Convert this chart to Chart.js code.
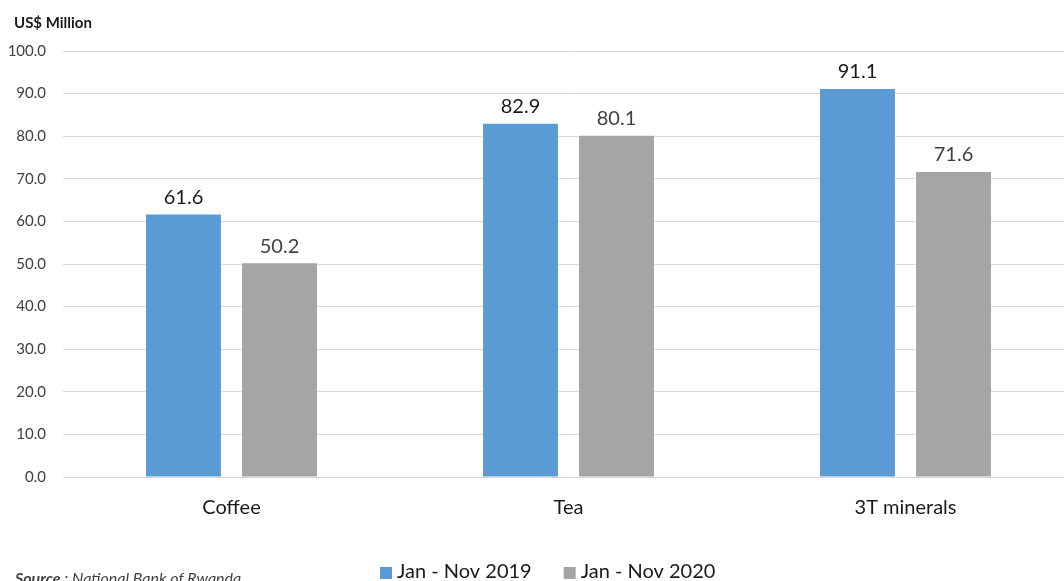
<!DOCTYPE html>
<html>
<head>
<meta charset="utf-8">
<script src="https://cdn.jsdelivr.net/npm/chart.js@4"></script>
<style>
  html, body { margin: 0; padding: 0; background: #fff; overflow: hidden; }
  #wrap { position: relative; width: 1075px; height: 590px; }
</style>
</head>
<body>
<div id="wrap"><canvas id="chart"></canvas></div>
<script>
const categories = ['Coffee', 'Tea', '3T minerals']
const labels2019 = 'Jan - Nov 2019'
const labels2020 = 'Jan - Nov 2020'
const values2019 = [61.6, 82.9, 91.1]
const values2020 = [50.2, 80.1, 71.6]
const yTicks = { min: 0, max: 100, step: 10 }

const blue = '#5b9bd5'
const gray = '#a5a5a5'
const fontName = 'Lato, "Open Sans", sans-serif'

// value labels above bars
const valueLabels = {
    id: 'valueLabels',
    afterDatasetsDraw(chart) {
        const ctx = chart.ctx
        ctx.save()
        ctx.font = '20px ' + fontName
        ctx.textAlign = 'center'
        ctx.textBaseline = 'bottom'
        chart.data.datasets.forEach((ds, i) => {
            const meta = chart.getDatasetMeta(i)
            ctx.fillStyle = i === 0 ? '#1a1a1a' : '#404040'
            meta.data.forEach((bar, j) => {
                ctx.fillText(ds.data[j].toFixed(1), bar.x, bar.y - 7)
            })
        })
        ctx.restore()
    }
}

// title, source and legend, laid out like the original
const extras = {
    id: 'extras',
    afterDraw(chart) {
        const ctx = chart.ctx
        ctx.save()
        ctx.fillStyle = '#1a1a1a'
        ctx.font = 'bold 15px ' + fontName
        ctx.textBaseline = 'middle'
        ctx.textAlign = 'left'
        ctx.fillText('US$ Million', 14, 23)

        ctx.fillStyle = '#404040'
        ctx.font = 'italic bold 16px ' + fontName
        ctx.textBaseline = 'alphabetic'
        ctx.fillText('Source', 15, 584)
        const w = ctx.measureText('Source').width
        ctx.font = 'italic 16px ' + fontName
        ctx.fillText(' : National Bank of Rwanda', 15 + w, 584)

        let x = 380
        ctx.font = '20px ' + fontName
        ctx.textBaseline = 'middle'
        chart.data.datasets.forEach(ds => {
            ctx.fillStyle = ds.backgroundColor
            ctx.fillRect(x, 567, 12, 12)
            ctx.fillStyle = '#1a1a1a'
            ctx.fillText(ds.label, x + 17, 572)
            x += 17 + ctx.measureText(ds.label).width + 32
        })
        ctx.restore()
    }
}

const ctx = document.getElementById('chart').getContext('2d')
const chart = new Chart(ctx, {
    type: 'bar',
    data: {
        labels: categories,
        datasets: [
            { label: labels2019, data: values2019, backgroundColor: blue },
            { label: labels2020, data: values2020, backgroundColor: gray }
        ]
    },
    options: {
        responsive: true,
        maintainAspectRatio: false,
        animation: false,
        categoryPercentage: 0.57,
        barPercentage: 0.78,
        layout: { padding: { top: 51, right: 1, left: 0, bottom: 0 } },
        plugins: {
            legend: { display: false },
            tooltip: { enabled: false }
        },
        scales: {
            x: {
                grid: { display: false },
                border: { display: false },
                ticks: { color: '#1a1a1a', font: { family: fontName, size: 20 }, padding: 11 },
                afterFit(scale) { scale.height = 113 }
            },
            y: {
                min: yTicks.min,
                max: yTicks.max,
                grid: { color: '#d9d9d9', drawTicks: false },
                border: { display: false },
                ticks: {
                    stepSize: yTicks.step,
                    color: '#404040',
                    font: { family: fontName, size: 15 },
                    padding: 17,
                    callback: v => v.toFixed(1)
                },
                afterFit(scale) { scale.width = 63 }
            }
        }
    },
    plugins: [valueLabels, extras]
})
</script>
</body>
</html>
